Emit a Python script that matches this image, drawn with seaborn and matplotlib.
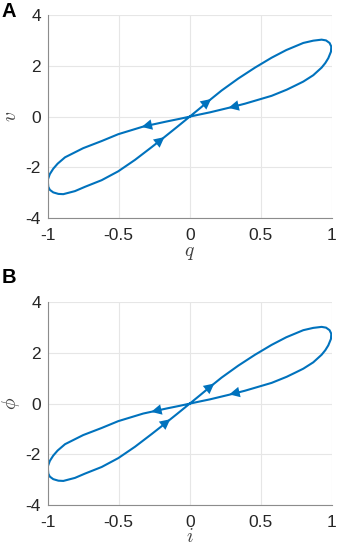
import numpy as np
import pandas as pd
import matplotlib
matplotlib.use("Agg")
import matplotlib.pyplot as plt
import seaborn as sns

# Curve points (closed loop, starting at the origin)
upper_x = [0.0, 0.07, 0.143, 0.225, 0.342, 0.460, 0.577, 0.68, 0.80, 0.870,
           0.929, 0.960, 0.985, 0.997, 0.995, 0.976, 0.955, 0.929, 0.870, 0.80,
           0.742, 0.683, 0.577, 0.48, 0.389, 0.284, 0.143, 0.07]
upper_y = [0.0, 0.32, 0.66, 1.03, 1.50, 1.93, 2.32, 2.62, 2.90, 2.99,
           3.03, 3.00, 2.90, 2.76, 2.56, 2.30, 2.11, 1.93, 1.63, 1.38,
           1.22, 1.06, 0.82, 0.66, 0.51, 0.36, 0.17, 0.085]
lower_x = [0.0, -0.07, -0.162, -0.327, -0.503, -0.620, -0.75, -0.878, -0.930,
           -0.961, -0.985, -1.0, -0.996, -0.985, -0.961, -0.925, -0.890, -0.808,
           -0.737, -0.620, -0.503, -0.385, -0.268, -0.186, -0.09, 0.0]
lower_y = [0.0, -0.085, -0.19, -0.39, -0.69, -0.96, -1.24, -1.60, -1.85,
           -2.05, -2.26, -2.49, -2.76, -2.88, -2.98, -3.04, -3.05, -2.93,
           -2.76, -2.50, -2.15, -1.70, -1.20, -0.84, -0.41, 0.0]

# Arrow positions and travel directions (data units) per panel
arrows_A = [(0.143, 0.66, 1, 4.5), (0.284, 0.36, -1, -1.3),
            (-0.327, -0.39, -1, -1.3), (-0.186, -0.84, 1, 4.5)]
arrows_B = [(0.165, 0.76, 1, 4.5), (0.290, 0.38, -1, -1.3),
            (-0.26, -0.31, -1, -1.3), (-0.145, -0.65, 1, 4.5)]

x_ticks = [-1, -0.5, 0, 0.5, 1]
x_ticklabels = ["-1", "-0.5", "0", "0.5", "1"]
y_ticks = [-4, -2, 0, 2, 4]
y_ticklabels = ["-4", "-2", "0", "2", "4"]

panels = [("A", r"$q$", r"$v$", arrows_A), ("B", r"$i$", r"$\phi$", arrows_B)]

sns.set_theme(style="white")
plt.rcParams['font.family'] = ['Liberation Sans', 'DejaVu Sans']
plt.rcParams['mathtext.fontset'] = 'cm'

color = "#0072BD"
fig = plt.figure(figsize=(3.39, 5.53), dpi=100)
W, H = 339, 553
axes_boxes = [(47.7, 15, 331.7, 218.3), (47.7, 302.3, 331.7, 505)]
letter_baselines = [17, 283]

df = pd.DataFrame({"x": upper_x + lower_x, "y": upper_y + lower_y})
df["order"] = range(len(df))

for (letter, xl, yl, arrows), (x0, y0, x1, y1), lb in zip(panels, axes_boxes, letter_baselines):
    ax = fig.add_axes([x0 / W, 1 - y1 / H, (x1 - x0) / W, (y1 - y0) / H])
    sns.lineplot(data=df, x="x", y="y", sort=False, estimator=None, ax=ax,
                 color=color, lw=1.5)
    for px, py, dx, dy in arrows:
        eps = 0.012
        n = np.hypot(dx, dy / 4.0)
        ax.annotate("", xy=(px + eps * dx / n, py + eps * dy / n),
                    xytext=(px - eps * dx / n, py - eps * dy / n),
                    arrowprops=dict(arrowstyle="-|>,head_length=0.75,head_width=0.38",
                                    color=color, lw=0, shrinkA=0, shrinkB=0,
                                    mutation_scale=10))
    ax.set_xlim(-1, 1)
    ax.set_ylim(-4, 4)
    ax.set_xticks(x_ticks)
    ax.set_xticklabels(x_ticklabels)
    ax.set_yticks(y_ticks)
    ax.set_yticklabels(y_ticklabels)
    ax.tick_params(labelsize=12.5, colors="#262626", length=0)
    ax.tick_params(axis="x", pad=7)
    ax.tick_params(axis="y", pad=5)
    ax.grid(True, color="#e6e6e6", lw=0.8)
    for s in ["top", "right"]:
        ax.spines[s].set_visible(False)
    for s in ["left", "bottom"]:
        ax.spines[s].set_color("#8c8c8c")
        ax.spines[s].set_linewidth(0.8)
    ax.set_xlabel(xl, fontsize=14, color="#404040")
    ax.xaxis.label.set_va("baseline")
    ax.xaxis.set_label_coords(0.5, -37.5 / (y1 - y0))
    ax.set_ylabel(yl, fontsize=14, color="#404040")
    ax.yaxis.label.set_va("center")
    ax.yaxis.set_label_coords((11.5 - x0) / (x1 - x0), 0.5)
    fig.text(2 / W, 1 - lb / H, letter, fontsize=14.5, fontweight="bold",
             va="baseline", ha="left", color="black")

fig.savefig("out.png", dpi=100)
